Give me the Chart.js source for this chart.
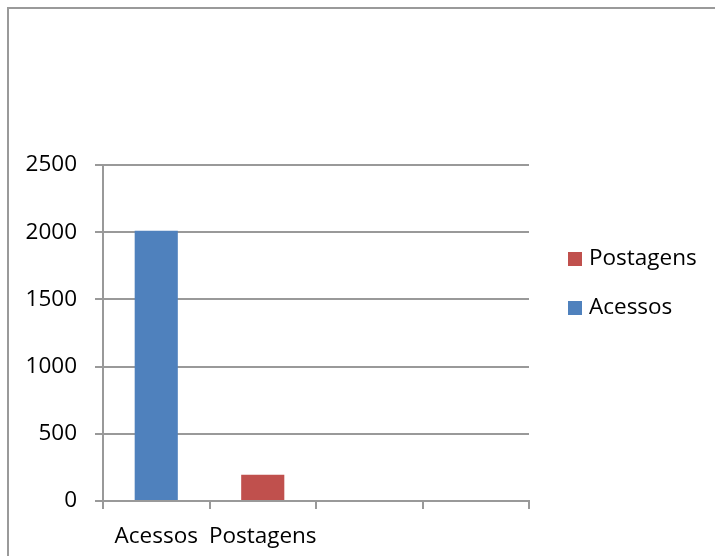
<!DOCTYPE html>
<html>
<head>
<meta charset="utf-8">
<script src="https://cdn.jsdelivr.net/npm/chart.js@4/dist/chart.umd.min.js"></script>
<style>
  html, body { margin: 0; padding: 0; background: #fff; overflow: hidden; }
  #wrap { position: relative; width: 715px; height: 556px; }
  #frame { position: absolute; left: 7px; top: 7px; width: 800px; height: 700px;
           border: 2px solid #9a9a9a; box-sizing: border-box; }
  #chart { position: absolute; left: 0; top: 0; }
</style>
</head>
<body>
<div id="wrap">
  <div id="frame"></div>
  <canvas id="chart" width="715" height="556"></canvas>
</div>
<script>
// values
var categories = ['Acessos', 'Postagens', '', ''];
var acessos = [2010, null, null, null];
var postagens = [null, 195, null, null];
var yTicks = [0, 500, 1000, 1500, 2000, 2500];

var FONT = 'Open Sans';
var FSIZE = 22.5;
var gridGray = '#999999';

// legend drawn Excel style, last series on top
var sideLegend = {
  id: 'sideLegend',
  afterDraw: function(chart) {
    var ctx = chart.ctx;
    var sets = chart.data.datasets.slice().reverse();
    ctx.save();
    ctx.font = FSIZE + 'px "' + FONT + '"';
    ctx.textBaseline = 'middle';
    sets.forEach(function(ds, i) {
      var cy = 259 + i * 49;
      ctx.fillStyle = ds.backgroundColor;
      ctx.fillRect(568, cy - 7, 14, 14);
      ctx.fillStyle = '#000';
      ctx.fillText(ds.label, 589, cy);
    });
    ctx.restore();
  }
};

new Chart(document.getElementById('chart'), {
  type: 'bar',
  data: {
    labels: categories,
    datasets: [
      { label: 'Acessos', data: acessos, backgroundColor: '#4f81bd' },
      { label: 'Postagens', data: postagens, backgroundColor: '#c0504d' }
    ]
  },
  options: {
    responsive: false,
    animation: false,
    layout: { padding: { left: 0, right: 186, top: 165, bottom: 0 } },
    plugins: { legend: { display: false }, tooltip: { enabled: false } },
    datasets: { bar: { barPercentage: 1, categoryPercentage: 0.405 } },
    scales: {
      x: {
        stacked: true,
        grid: { drawOnChartArea: false, drawTicks: true, tickLength: 8, color: gridGray, lineWidth: 2 },
        border: { color: gridGray, width: 2 },
        ticks: { color: '#000', font: { family: FONT, size: FSIZE }, padding: 14, maxRotation: 0, autoSkip: false },
        afterFit: function(s) { s.height = 55; }
      },
      y: {
        stacked: true,
        min: 0,
        max: 2500,
        afterBuildTicks: function(s) { s.ticks = yTicks.map(function(v) { return { value: v }; }); },
        grid: { color: gridGray, lineWidth: 2, tickLength: 8 },
        border: { color: gridGray, width: 2 },
        ticks: {
          color: '#000', font: { family: FONT, size: FSIZE }, padding: 18,
          callback: function(v) { return String(v); }
        },
        afterFit: function(s) { s.width = 103; }
      }
    }
  },
  plugins: [sideLegend]
});
</script>
</body>
</html>
